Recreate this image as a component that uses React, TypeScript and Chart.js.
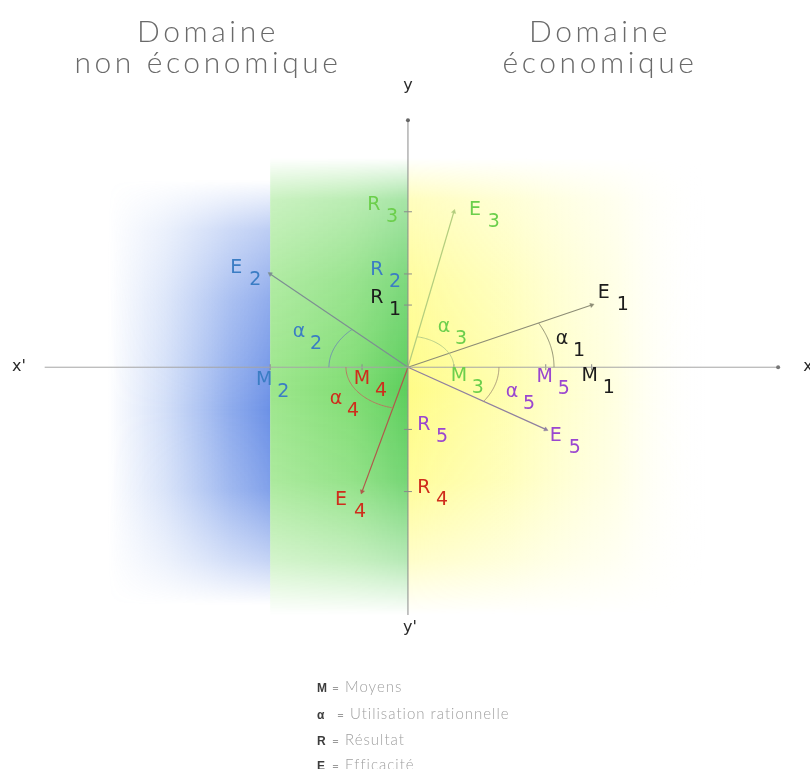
import React, { useEffect, useRef } from "react";
import { Chart, registerables } from "chart.js";
Chart.register(...registerables);

// ---- data ----
const SERIES = ["1", "2", "3", "4", "5"];
const MOYENS = [4, -3, 1, -1, 3]; // M_i on x axis
const RESULTATS = [2, 3, 5, -4, -2]; // R_i on y axis
const ALPHA_RADII = [3.18, 1.72, 1.0, 1.35, 1.98];
const X_AXIS_EXTENT = [-7.91, 8.06];
const Y_AXIS_EXTENT = [-7.97, 7.94];
const X_RANGE = [-8.774, 8.645];
const Y_RANGE = [-12.762, 11.651];
const LEGEND_KEYS = ["M", "α", "R", "E"];
const LEGEND_TEXTS = ["Moyens", "Utilisation rationnelle", "Résultat", "Efficacité"];
const TITLE_LEFT = ["Domaine", "non économique"];
const TITLE_RIGHT = ["Domaine", "économique"];

// ---- styles ----
const W = 810;
const H = 769;
const LABEL_COLORS = ["#1c1c1c", "#3b7dc4", "#6ccf4c", "#cf2d1c", "#9a46d0"];
const LINE_COLORS = ["#8d8d76", "#7d8e92", "#b3cd7e", "#b0584a", "#8f7fa0"];
const ARC_COLORS = ["#8f8f70", "#6f93ad", "#b6cd88", "#b67a60", "#a89878"];
const E_OFF = [[12, -12], [-34, -6], [21, -2], [-21, 8], [10, 7]];
const M_OFF = [[-2, 9], [-6, 13], [5, 9], [0, 12], [-1, 10]];
const R_OFF = [[-31, -7], [-31, -4], [-34, -7], [16, -4], [16, -4]];
const A_OFF = [[154, -28], [-109, -35], [36, -40], [-72, 32], [104, 25]];

const pxPerX = W / (X_RANGE[1] - X_RANGE[0]);
const pxPerY = H / (Y_RANGE[1] - Y_RANGE[0]);

function drawSub(ctx: CanvasRenderingContext2D, letter: string, sub: string, x: number, y: number, color: string, dx = 17) {
  ctx.fillStyle = color;
  ctx.font = '19px "DejaVu Sans", "Liberation Sans", Arial, sans-serif';
  ctx.textAlign = "center";
  ctx.textBaseline = "middle";
  ctx.fillText(letter, x, y);
  ctx.fillText(sub, x + dx, y + 12);
}

function maskedBand(
  w: number,
  h: number,
  x1: number,
  x2: number,
  stops: [number, string][],
  top: number,
  bot: number,
  vstops: [number, number][]
) {
  const off = document.createElement("canvas");
  off.width = w;
  off.height = h;
  const o = off.getContext("2d")!;
  const g = o.createLinearGradient(x1, 0, x2, 0);
  stops.forEach(([p, c]) => g.addColorStop(p, c));
  o.fillStyle = g;
  o.fillRect(x1, 0, x2 - x1, h);
  o.globalCompositeOperation = "destination-in";
  const m = o.createLinearGradient(0, top, 0, bot);
  m.addColorStop(0, "rgba(0,0,0,0)");
  vstops.forEach(([y, a]) => m.addColorStop((y - top) / (bot - top), `rgba(0,0,0,${a})`));
  m.addColorStop(1, "rgba(0,0,0,0)");
  o.fillStyle = m;
  o.fillRect(0, 0, w, h);
  return off;
}

const diagramPlugin = {
  id: "diagram",
  beforeDatasetsDraw(chart: any) {
    const ctx: CanvasRenderingContext2D = chart.ctx;
    const xs = chart.scales.x;
    const x0 = xs.getPixelForValue(0);
    const xM2 = xs.getPixelForValue(Math.min(...MOYENS));
    const w = chart.width;
    const h = chart.height;
    const blue = maskedBand(
      w, h, 108, xM2,
      [[0, "rgba(110,150,232,0)"], [0.35, "rgba(110,150,232,0.3)"], [0.75, "rgba(100,140,230,0.72)"], [1, "rgba(95,135,228,0.92)"]],
      180, 605,
      [[230, 0.45], [300, 0.75], [410, 1], [490, 0.85], [560, 0.4]]
    );
    const green = maskedBand(
      w, h, xM2, x0,
      [[0, "rgba(140,226,120,0.85)"], [0.6, "rgba(118,218,104,0.92)"], [1, "rgba(92,206,92,1)"]],
      158, 615,
      [[200, 0.55], [280, 0.8], [390, 1], [480, 0.85], [560, 0.45]]
    );
    const yellow = maskedBand(
      w, h, x0, 705,
      [[0, "rgba(255,252,135,1)"], [0.35, "rgba(255,254,160,0.8)"], [0.7, "rgba(255,255,190,0.45)"], [1, "rgba(255,255,255,0)"]],
      158, 615,
      [[200, 0.55], [280, 0.8], [390, 1], [480, 0.85], [560, 0.45]]
    );
    ctx.save();
    ctx.drawImage(blue, 0, 0, w, h);
    ctx.drawImage(green, 0, 0, w, h);
    ctx.drawImage(yellow, 0, 0, w, h);
    ctx.restore();
  },
  afterDatasetsDraw(chart: any) {
    const ctx: CanvasRenderingContext2D = chart.ctx;
    const xs = chart.scales.x;
    const ys = chart.scales.y;
    const x0 = xs.getPixelForValue(0);
    const y0 = ys.getPixelForValue(0);
    ctx.save();
    // angle arcs (circles in data space)
    SERIES.forEach((_, i) => {
      const M = MOYENS[i];
      const R = RESULTATS[i];
      const r = ALPHA_RADII[i];
      const base = M >= 0 ? 0 : Math.PI;
      let d = Math.atan2(R, M) - base;
      while (d > Math.PI) d -= 2 * Math.PI;
      while (d <= -Math.PI) d += 2 * Math.PI;
      ctx.beginPath();
      const n = 48;
      for (let k = 0; k <= n; k++) {
        const t = base + (d * k) / n;
        const px = xs.getPixelForValue(r * Math.cos(t));
        const py = ys.getPixelForValue(r * Math.sin(t));
        if (k === 0) ctx.moveTo(px, py);
        else ctx.lineTo(px, py);
      }
      ctx.strokeStyle = ARC_COLORS[i];
      ctx.lineWidth = 1;
      ctx.stroke();
    });
    // labels
    SERIES.forEach((s, i) => {
      const c = LABEL_COLORS[i];
      const ex = xs.getPixelForValue(MOYENS[i]);
      const ey = ys.getPixelForValue(RESULTATS[i]);
      drawSub(ctx, "E", s, ex + E_OFF[i][0], ey + E_OFF[i][1], c, 19);
      drawSub(ctx, "M", s, ex + M_OFF[i][0], y0 + M_OFF[i][1], c, 19);
      drawSub(ctx, "R", s, x0 + R_OFF[i][0], ey + R_OFF[i][1], c, 18);
      drawSub(ctx, "α", s, x0 + A_OFF[i][0], y0 + A_OFF[i][1], c, 17);
    });
    // axis names
    ctx.fillStyle = "#2a2a2a";
    ctx.font = '16px "DejaVu Sans", "Liberation Sans", Arial, sans-serif';
    ctx.textAlign = "center";
    ctx.textBaseline = "middle";
    ctx.fillText("y", x0, 86);
    ctx.fillText("y'", x0 + 2, 628);
    ctx.fillText("x'", 19, y0);
    ctx.fillText("x", 808, y0);
    ctx.restore();
  },
};

export default function App() {
  const ref = useRef<HTMLCanvasElement>(null);
  useEffect(() => {
    if (!ref.current) return;
    const rot = (i: number) =>
      (Math.atan2(MOYENS[i] * pxPerX, RESULTATS[i] * pxPerY) * 180) / Math.PI;
    const datasets: any[] = [
      {
        data: [{ x: X_AXIS_EXTENT[0], y: 0 }, { x: X_AXIS_EXTENT[1], y: 0 }],
        showLine: true,
        borderColor: "#a6a6a6",
        borderWidth: 1,
        pointRadius: [0, 2],
        pointBackgroundColor: "#777",
        pointBorderWidth: 0,
      },
      {
        data: [{ x: 0, y: Y_AXIS_EXTENT[0] }, { x: 0, y: Y_AXIS_EXTENT[1] }],
        showLine: true,
        borderColor: "#8a8a8a",
        borderWidth: 1,
        pointRadius: [0, 2],
        pointBackgroundColor: "#666",
        pointBorderWidth: 0,
      },
      {
        data: MOYENS.map((m) => ({ x: m, y: 0 })),
        pointStyle: "line",
        pointRotation: 90,
        pointRadius: 3,
        borderColor: "#8a8a8a",
        pointBorderWidth: 1,
      },
      {
        data: RESULTATS.map((r) => ({ x: 0, y: r })),
        pointStyle: "line",
        pointRadius: 4,
        borderColor: "#8a8a8a",
        pointBorderWidth: 1,
      },
      ...SERIES.map((_, i) => ({
        data: [{ x: 0, y: 0 }, { x: MOYENS[i], y: RESULTATS[i] }],
        showLine: true,
        borderColor: LINE_COLORS[i],
        borderWidth: 1.2,
        pointStyle: "triangle",
        pointRotation: [0, rot(i)],
        pointRadius: [0, 2.5],
        pointBackgroundColor: LINE_COLORS[i],
        pointBorderColor: LINE_COLORS[i],
        pointBorderWidth: 0.5,
      })),
    ];
    const chart = new Chart(ref.current, {
      type: "scatter",
      data: { datasets },
      options: {
        animation: false,
        responsive: false,
        devicePixelRatio: 1,
        events: [],
        layout: { padding: 0 },
        plugins: { legend: { display: false }, tooltip: { enabled: false }, title: { display: false } },
        scales: {
          x: { type: "linear", min: X_RANGE[0], max: X_RANGE[1], display: false },
          y: { type: "linear", min: Y_RANGE[0], max: Y_RANGE[1], display: false },
        },
      } as any,
      plugins: [diagramPlugin],
    });
    return () => chart.destroy();
  }, []);

  const titleStyle: React.CSSProperties = {
    position: "absolute",
    top: 15,
    width: 320,
    textAlign: "center",
    fontFamily: "Lato, 'Open Sans', sans-serif",
    fontWeight: 300,
    fontSize: 30,
    lineHeight: "31px",
    letterSpacing: 3.6,
    color: "#6a6a6a",
    whiteSpace: "nowrap",
  };
  const legendTops = [678, 705, 731, 756];
  return (
    <div style={{ position: "absolute", left: 0, top: 0, width: W, height: H, background: "#fff", overflow: "hidden" }}>
      <canvas ref={ref} width={W} height={H} style={{ position: "absolute", left: 0, top: 0, width: W, height: H }} />
      <div style={{ ...titleStyle, left: 48 }}>
        {TITLE_LEFT[0]}
        <br />
        {TITLE_LEFT[1]}
      </div>
      <div style={{ ...titleStyle, left: 440 }}>
        {TITLE_RIGHT[0]}
        <br />
        {TITLE_RIGHT[1]}
      </div>
      {LEGEND_KEYS.map((k, i) => (
        <div
          key={k}
          style={{
            position: "absolute",
            left: 317,
            top: legendTops[i],
            height: 16,
            lineHeight: "16px",
            whiteSpace: "nowrap",
            fontFamily: "Lato, 'Open Sans', sans-serif",
          }}
        >
          <span style={{ display: "inline-block", width: k === "α" ? 20 : 15, fontWeight: 700, fontSize: 12, color: "#3c3c3c", fontFamily: "'Liberation Sans', Arial, sans-serif" }}>{k}</span>
          <span style={{ display: "inline-block", width: 13, fontSize: 12, color: "#9a9a9a" }}>=</span>
          <span style={{ fontSize: 15, fontWeight: 300, color: "#a0a0a0", letterSpacing: 1 }}>{LEGEND_TEXTS[i]}</span>
        </div>
      ))}
    </div>
  );
}
